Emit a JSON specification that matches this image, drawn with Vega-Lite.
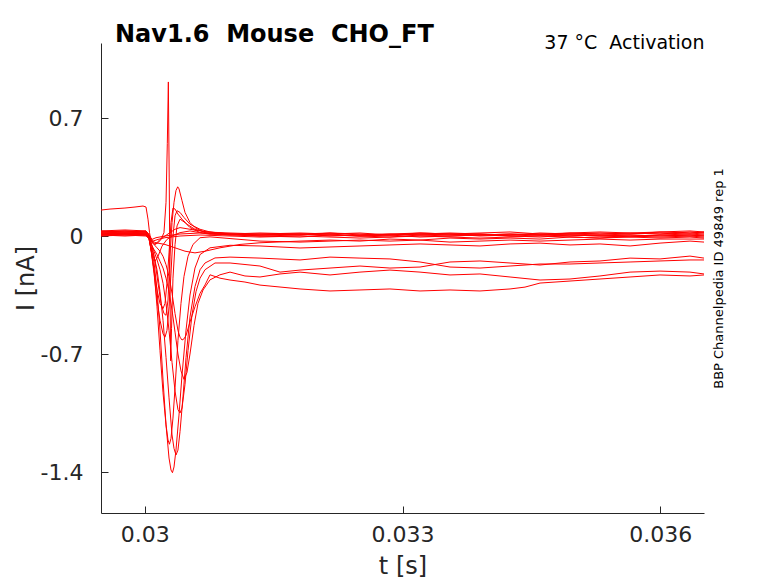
{
  "$schema": "https://vega.github.io/schema/vega-lite/v6.json",
  "width": 603,
  "height": 470,
  "autosize": {"type": "none"},
  "padding": {"left": 101, "top": 43, "right": 74, "bottom": 70},
  "background": "white",
  "title": {
    "text": "Nav1.6\u00a0 Mouse\u00a0 CHO_FT",
    "anchor": "start",
    "frame": "group",
    "dx": 14,
    "dy": 33,
    "offset": 0,
    "baseline": "alphabetic",
    "font": "DejaVu Sans",
    "fontSize": 24,
    "fontWeight": "bold",
    "color": "black"
  },
  "datasets": {
    "traces": [
      {"s":1,"t":0.02949,"i":0.012},{"s":1,"t":0.029769,"i":0.018},{"s":1,"t":0.030014,"i":0.012},{"s":1,"t":0.030049,"i":-0.012},{"s":1,"t":0.030072,"i":-0.083},{"s":1,"t":0.030107,"i":-0.154},{"s":1,"t":0.030142,"i":-0.32},{"s":1,"t":0.030177,"i":-0.558},{"s":1,"t":0.030212,"i":-0.854},{"s":1,"t":0.030247,"i":-1.121},{"s":1,"t":0.030282,"i":-1.317},{"s":1,"t":0.030305,"i":-1.388},{"s":1,"t":0.030322,"i":-1.404},{"s":1,"t":0.03034,"i":-1.37},{"s":1,"t":0.030363,"i":-1.269},{"s":1,"t":0.030398,"i":-1.062},{"s":1,"t":0.030433,"i":-0.825},{"s":1,"t":0.03048,"i":-0.558},{"s":1,"t":0.030526,"i":-0.35},{"s":1,"t":0.030584,"i":-0.19},{"s":1,"t":0.030643,"i":-0.11},{"s":1,"t":0.030759,"i":-0.07},{"s":1,"t":0.030992,"i":-0.055},{"s":1,"t":0.031341,"i":-0.059},{"s":1,"t":0.031807,"i":-0.071},{"s":1,"t":0.032156,"i":-0.065},{"s":1,"t":0.032505,"i":-0.059},{"s":1,"t":0.032854,"i":-0.053},{"s":1,"t":0.033204,"i":-0.047},{"s":1,"t":0.033553,"i":-0.053},{"s":1,"t":0.033902,"i":-0.059},{"s":1,"t":0.034252,"i":-0.047},{"s":1,"t":0.034601,"i":-0.042},{"s":1,"t":0.03495,"i":-0.053},{"s":1,"t":0.035299,"i":-0.047},{"s":1,"t":0.035649,"i":-0.059},{"s":1,"t":0.035998,"i":-0.042},{"s":1,"t":0.036347,"i":-0.03},{"s":1,"t":0.03651,"i":-0.036},
      {"s":2,"t":0.02949,"i":0.006},{"s":2,"t":0.029769,"i":0.012},{"s":2,"t":0.030014,"i":0.006},{"s":2,"t":0.030049,"i":-0.018},{"s":2,"t":0.030072,"i":-0.06},{"s":2,"t":0.030107,"i":-0.12},{"s":2,"t":0.030142,"i":-0.2},{"s":2,"t":0.030177,"i":-0.33},{"s":2,"t":0.030212,"i":-0.5},{"s":2,"t":0.030247,"i":-0.72},{"s":2,"t":0.030282,"i":-0.96},{"s":2,"t":0.030317,"i":-1.18},{"s":2,"t":0.03034,"i":-1.26},{"s":2,"t":0.030363,"i":-1.299},{"s":2,"t":0.030386,"i":-1.27},{"s":2,"t":0.03041,"i":-1.16},{"s":2,"t":0.030445,"i":-0.95},{"s":2,"t":0.03048,"i":-0.72},{"s":2,"t":0.030526,"i":-0.48},{"s":2,"t":0.030584,"i":-0.3},{"s":2,"t":0.030643,"i":-0.2},{"s":2,"t":0.030701,"i":-0.16},{"s":2,"t":0.030817,"i":-0.13},{"s":2,"t":0.030992,"i":-0.125},{"s":2,"t":0.031341,"i":-0.131},{"s":2,"t":0.031807,"i":-0.142},{"s":2,"t":0.032156,"i":-0.125},{"s":2,"t":0.032505,"i":-0.131},{"s":2,"t":0.032854,"i":-0.136},{"s":2,"t":0.033204,"i":-0.154},{"s":2,"t":0.033553,"i":-0.184},{"s":2,"t":0.033902,"i":-0.19},{"s":2,"t":0.034252,"i":-0.178},{"s":2,"t":0.034601,"i":-0.166},{"s":2,"t":0.03495,"i":-0.166},{"s":2,"t":0.035299,"i":-0.16},{"s":2,"t":0.035649,"i":-0.154},{"s":2,"t":0.035998,"i":-0.148},{"s":2,"t":0.036347,"i":-0.142},{"s":2,"t":0.03651,"i":-0.142},
      {"s":3,"t":0.02949,"i":0.024},{"s":3,"t":0.029769,"i":0.03},{"s":3,"t":0.030014,"i":0.024},{"s":3,"t":0.030049,"i":0.0},{"s":3,"t":0.030072,"i":-0.07},{"s":3,"t":0.030107,"i":-0.2},{"s":3,"t":0.030142,"i":-0.42},{"s":3,"t":0.030177,"i":-0.68},{"s":3,"t":0.030212,"i":-0.93},{"s":3,"t":0.030247,"i":-1.12},{"s":3,"t":0.03027,"i":-1.21},{"s":3,"t":0.030287,"i":-1.235},{"s":3,"t":0.030305,"i":-1.2},{"s":3,"t":0.030328,"i":-1.08},{"s":3,"t":0.030352,"i":-0.9},{"s":3,"t":0.030386,"i":-0.62},{"s":3,"t":0.030421,"i":-0.4},{"s":3,"t":0.030456,"i":-0.24},{"s":3,"t":0.030503,"i":-0.12},{"s":3,"t":0.030561,"i":-0.05},{"s":3,"t":0.030643,"i":-0.01},{"s":3,"t":0.030759,"i":-0.005},{"s":3,"t":0.030992,"i":-0.015},{"s":3,"t":0.031341,"i":-0.03},{"s":3,"t":0.031807,"i":-0.036},{"s":3,"t":0.032156,"i":-0.03},{"s":3,"t":0.032505,"i":-0.024},{"s":3,"t":0.032854,"i":-0.03},{"s":3,"t":0.033204,"i":-0.024},{"s":3,"t":0.033553,"i":-0.036},{"s":3,"t":0.033902,"i":-0.03},{"s":3,"t":0.034252,"i":-0.024},{"s":3,"t":0.034601,"i":-0.03},{"s":3,"t":0.03495,"i":-0.024},{"s":3,"t":0.035299,"i":-0.018},{"s":3,"t":0.035649,"i":-0.024},{"s":3,"t":0.035998,"i":-0.018},{"s":3,"t":0.036347,"i":-0.018},{"s":3,"t":0.03651,"i":-0.018},
      {"s":4,"t":0.02949,"i":0.018},{"s":4,"t":0.029769,"i":0.012},{"s":4,"t":0.030014,"i":0.018},{"s":4,"t":0.030049,"i":-0.006},{"s":4,"t":0.030072,"i":-0.04},{"s":4,"t":0.030107,"i":-0.09},{"s":4,"t":0.030142,"i":-0.14},{"s":4,"t":0.030177,"i":-0.2},{"s":4,"t":0.030212,"i":-0.28},{"s":4,"t":0.030247,"i":-0.4},{"s":4,"t":0.030282,"i":-0.56},{"s":4,"t":0.030317,"i":-0.75},{"s":4,"t":0.030352,"i":-0.92},{"s":4,"t":0.030386,"i":-1.03},{"s":4,"t":0.03041,"i":-1.05},{"s":4,"t":0.030433,"i":-1.02},{"s":4,"t":0.030468,"i":-0.88},{"s":4,"t":0.030503,"i":-0.68},{"s":4,"t":0.030549,"i":-0.47},{"s":4,"t":0.030596,"i":-0.33},{"s":4,"t":0.030643,"i":-0.25},{"s":4,"t":0.030701,"i":-0.2},{"s":4,"t":0.030817,"i":-0.16},{"s":4,"t":0.030992,"i":-0.16},{"s":4,"t":0.031341,"i":-0.178},{"s":4,"t":0.031574,"i":-0.214},{"s":4,"t":0.031807,"i":-0.202},{"s":4,"t":0.032156,"i":-0.19},{"s":4,"t":0.032505,"i":-0.178},{"s":4,"t":0.032854,"i":-0.19},{"s":4,"t":0.033204,"i":-0.184},{"s":4,"t":0.033553,"i":-0.154},{"s":4,"t":0.033902,"i":-0.148},{"s":4,"t":0.034252,"i":-0.16},{"s":4,"t":0.034601,"i":-0.172},{"s":4,"t":0.03495,"i":-0.154},{"s":4,"t":0.035299,"i":-0.148},{"s":4,"t":0.035649,"i":-0.131},{"s":4,"t":0.035998,"i":-0.136},{"s":4,"t":0.036347,"i":-0.119},{"s":4,"t":0.03651,"i":-0.131},
      {"s":5,"t":0.02949,"i":0.006},{"s":5,"t":0.029769,"i":0.0},{"s":5,"t":0.030014,"i":0.006},{"s":5,"t":0.030049,"i":-0.012},{"s":5,"t":0.030072,"i":-0.05},{"s":5,"t":0.030107,"i":-0.08},{"s":5,"t":0.030142,"i":-0.11},{"s":5,"t":0.030177,"i":-0.15},{"s":5,"t":0.030212,"i":-0.19},{"s":5,"t":0.030247,"i":-0.25},{"s":5,"t":0.030282,"i":-0.33},{"s":5,"t":0.030317,"i":-0.44},{"s":5,"t":0.030352,"i":-0.57},{"s":5,"t":0.030386,"i":-0.7},{"s":5,"t":0.030421,"i":-0.8},{"s":5,"t":0.030456,"i":-0.85},{"s":5,"t":0.030491,"i":-0.81},{"s":5,"t":0.030526,"i":-0.7},{"s":5,"t":0.030573,"i":-0.53},{"s":5,"t":0.030619,"i":-0.4},{"s":5,"t":0.030678,"i":-0.32},{"s":5,"t":0.030759,"i":-0.26},{"s":5,"t":0.030875,"i":-0.23},{"s":5,"t":0.030992,"i":-0.214},{"s":5,"t":0.031166,"i":-0.237},{"s":5,"t":0.031341,"i":-0.243},{"s":5,"t":0.031574,"i":-0.225},{"s":5,"t":0.031807,"i":-0.214},{"s":5,"t":0.032156,"i":-0.231},{"s":5,"t":0.032505,"i":-0.214},{"s":5,"t":0.032854,"i":-0.202},{"s":5,"t":0.033204,"i":-0.214},{"s":5,"t":0.033553,"i":-0.231},{"s":5,"t":0.033902,"i":-0.225},{"s":5,"t":0.034252,"i":-0.243},{"s":5,"t":0.034601,"i":-0.261},{"s":5,"t":0.03495,"i":-0.255},{"s":5,"t":0.035299,"i":-0.237},{"s":5,"t":0.035649,"i":-0.214},{"s":5,"t":0.035998,"i":-0.208},{"s":5,"t":0.036347,"i":-0.214},{"s":5,"t":0.03651,"i":-0.225},
      {"s":6,"t":0.02949,"i":0.012},{"s":6,"t":0.029769,"i":0.018},{"s":6,"t":0.030014,"i":0.012},{"s":6,"t":0.030049,"i":-0.006},{"s":6,"t":0.030072,"i":-0.03},{"s":6,"t":0.030107,"i":-0.05},{"s":6,"t":0.030142,"i":-0.07},{"s":6,"t":0.030177,"i":-0.09},{"s":6,"t":0.030212,"i":-0.12},{"s":6,"t":0.030247,"i":-0.17},{"s":6,"t":0.030282,"i":-0.24},{"s":6,"t":0.030317,"i":-0.34},{"s":6,"t":0.030352,"i":-0.46},{"s":6,"t":0.030386,"i":-0.56},{"s":6,"t":0.03041,"i":-0.6},{"s":6,"t":0.030433,"i":-0.617},{"s":6,"t":0.030456,"i":-0.61},{"s":6,"t":0.03048,"i":-0.59},{"s":6,"t":0.030526,"i":-0.51},{"s":6,"t":0.030584,"i":-0.42},{"s":6,"t":0.030643,"i":-0.34},{"s":6,"t":0.030701,"i":-0.29},{"s":6,"t":0.030759,"i":-0.23},{"s":6,"t":0.030875,"i":-0.25},{"s":6,"t":0.030992,"i":-0.261},{"s":6,"t":0.031166,"i":-0.273},{"s":6,"t":0.031341,"i":-0.291},{"s":6,"t":0.031807,"i":-0.314},{"s":6,"t":0.032156,"i":-0.326},{"s":6,"t":0.032505,"i":-0.32},{"s":6,"t":0.032854,"i":-0.314},{"s":6,"t":0.033204,"i":-0.326},{"s":6,"t":0.033553,"i":-0.32},{"s":6,"t":0.033902,"i":-0.326},{"s":6,"t":0.034252,"i":-0.314},{"s":6,"t":0.034426,"i":-0.303},{"s":6,"t":0.034601,"i":-0.279},{"s":6,"t":0.03495,"i":-0.267},{"s":6,"t":0.035299,"i":-0.255},{"s":6,"t":0.035649,"i":-0.243},{"s":6,"t":0.035998,"i":-0.231},{"s":6,"t":0.036347,"i":-0.237},{"s":6,"t":0.03651,"i":-0.231},
      {"s":7,"t":0.02949,"i":0.03},{"s":7,"t":0.029769,"i":0.036},{"s":7,"t":0.030014,"i":0.03},{"s":7,"t":0.030049,"i":0.01},{"s":7,"t":0.030084,"i":-0.03},{"s":7,"t":0.030119,"i":-0.05},{"s":7,"t":0.030154,"i":-0.04},{"s":7,"t":0.030189,"i":-0.02},{"s":7,"t":0.030223,"i":0.02},{"s":7,"t":0.030247,"i":0.2},{"s":7,"t":0.030262,"i":0.55},{"s":7,"t":0.030274,"i":0.914},{"s":7,"t":0.030284,"i":0.35},{"s":7,"t":0.030293,"i":-0.3},{"s":7,"t":0.030301,"i":-0.74},{"s":7,"t":0.030311,"i":-0.55},{"s":7,"t":0.030328,"i":-0.25},{"s":7,"t":0.030352,"i":-0.05},{"s":7,"t":0.030375,"i":0.06},{"s":7,"t":0.03041,"i":0.1},{"s":7,"t":0.030468,"i":0.08},{"s":7,"t":0.030526,"i":0.05},{"s":7,"t":0.030643,"i":0.02},{"s":7,"t":0.030759,"i":0.01},{"s":7,"t":0.030992,"i":0.012},{"s":7,"t":0.031341,"i":0.006},{"s":7,"t":0.031807,"i":0.012},{"s":7,"t":0.032156,"i":0.0},{"s":7,"t":0.032505,"i":0.006},{"s":7,"t":0.032854,"i":0.012},{"s":7,"t":0.033204,"i":0.006},{"s":7,"t":0.033553,"i":0.0},{"s":7,"t":0.033902,"i":0.006},{"s":7,"t":0.034252,"i":0.012},{"s":7,"t":0.034601,"i":0.006},{"s":7,"t":0.03495,"i":0.0},{"s":7,"t":0.035299,"i":0.006},{"s":7,"t":0.035649,"i":0.012},{"s":7,"t":0.035998,"i":0.018},{"s":7,"t":0.036347,"i":0.012},{"s":7,"t":0.03651,"i":0.018},
      {"s":8,"t":0.02949,"i":0.018},{"s":8,"t":0.029769,"i":0.024},{"s":8,"t":0.030014,"i":0.018},{"s":8,"t":0.030049,"i":-0.01},{"s":8,"t":0.030072,"i":-0.08},{"s":8,"t":0.030107,"i":-0.22},{"s":8,"t":0.030142,"i":-0.38},{"s":8,"t":0.030177,"i":-0.5},{"s":8,"t":0.030212,"i":-0.58},{"s":8,"t":0.030235,"i":-0.6},{"s":8,"t":0.030258,"i":-0.56},{"s":8,"t":0.030282,"i":-0.42},{"s":8,"t":0.030305,"i":-0.22},{"s":8,"t":0.030328,"i":0.0},{"s":8,"t":0.030352,"i":0.12},{"s":8,"t":0.030375,"i":0.15},{"s":8,"t":0.03041,"i":0.14},{"s":8,"t":0.030456,"i":0.11},{"s":8,"t":0.030526,"i":0.07},{"s":8,"t":0.030643,"i":0.04},{"s":8,"t":0.030759,"i":0.024},{"s":8,"t":0.030992,"i":0.012},{"s":8,"t":0.031341,"i":0.0},{"s":8,"t":0.031807,"i":0.006},{"s":8,"t":0.032156,"i":0.012},{"s":8,"t":0.032505,"i":0.0},{"s":8,"t":0.032854,"i":-0.006},{"s":8,"t":0.033204,"i":0.006},{"s":8,"t":0.033553,"i":0.012},{"s":8,"t":0.033902,"i":0.0},{"s":8,"t":0.034252,"i":0.006},{"s":8,"t":0.034601,"i":0.012},{"s":8,"t":0.03495,"i":0.006},{"s":8,"t":0.035299,"i":0.0},{"s":8,"t":0.035649,"i":0.006},{"s":8,"t":0.035998,"i":0.0},{"s":8,"t":0.036347,"i":0.006},{"s":8,"t":0.03651,"i":0.0},
      {"s":9,"t":0.02949,"i":0.024},{"s":9,"t":0.029769,"i":0.018},{"s":9,"t":0.030014,"i":0.024},{"s":9,"t":0.030049,"i":0.0},{"s":9,"t":0.030072,"i":-0.08},{"s":9,"t":0.030107,"i":-0.2},{"s":9,"t":0.030142,"i":-0.32},{"s":9,"t":0.030177,"i":-0.4},{"s":9,"t":0.030212,"i":-0.43},{"s":9,"t":0.030235,"i":-0.4},{"s":9,"t":0.030258,"i":-0.28},{"s":9,"t":0.030282,"i":-0.1},{"s":9,"t":0.030305,"i":0.08},{"s":9,"t":0.030328,"i":0.166},{"s":9,"t":0.030352,"i":0.16},{"s":9,"t":0.030386,"i":0.13},{"s":9,"t":0.030433,"i":0.1},{"s":9,"t":0.030491,"i":0.07},{"s":9,"t":0.030584,"i":0.04},{"s":9,"t":0.030701,"i":0.024},{"s":9,"t":0.030992,"i":0.018},{"s":9,"t":0.031341,"i":0.012},{"s":9,"t":0.031807,"i":0.018},{"s":9,"t":0.032156,"i":0.012},{"s":9,"t":0.032505,"i":0.018},{"s":9,"t":0.032854,"i":0.006},{"s":9,"t":0.033204,"i":0.012},{"s":9,"t":0.033553,"i":0.018},{"s":9,"t":0.033902,"i":0.012},{"s":9,"t":0.034252,"i":0.006},{"s":9,"t":0.034601,"i":0.018},{"s":9,"t":0.03495,"i":0.012},{"s":9,"t":0.035299,"i":0.018},{"s":9,"t":0.035649,"i":0.012},{"s":9,"t":0.035998,"i":0.024},{"s":9,"t":0.036347,"i":0.018},{"s":9,"t":0.03651,"i":0.024},
      {"s":10,"t":0.02949,"i":0.03},{"s":10,"t":0.029769,"i":0.024},{"s":10,"t":0.030014,"i":0.03},{"s":10,"t":0.030049,"i":0.006},{"s":10,"t":0.030084,"i":-0.06},{"s":10,"t":0.030119,"i":-0.15},{"s":10,"t":0.030154,"i":-0.28},{"s":10,"t":0.030189,"i":-0.4},{"s":10,"t":0.030223,"i":-0.46},{"s":10,"t":0.030247,"i":-0.47},{"s":10,"t":0.03027,"i":-0.38},{"s":10,"t":0.030293,"i":-0.12},{"s":10,"t":0.030317,"i":0.08},{"s":10,"t":0.03034,"i":0.2},{"s":10,"t":0.030363,"i":0.27},{"s":10,"t":0.030383,"i":0.292},{"s":10,"t":0.030398,"i":0.28},{"s":10,"t":0.030433,"i":0.21},{"s":10,"t":0.030468,"i":0.14},{"s":10,"t":0.030526,"i":0.08},{"s":10,"t":0.030584,"i":0.05},{"s":10,"t":0.030701,"i":0.02},{"s":10,"t":0.030817,"i":0.012},{"s":10,"t":0.030992,"i":0.006},{"s":10,"t":0.031341,"i":0.012},{"s":10,"t":0.031807,"i":0.006},{"s":10,"t":0.032156,"i":0.018},{"s":10,"t":0.032505,"i":0.012},{"s":10,"t":0.032854,"i":0.006},{"s":10,"t":0.033204,"i":0.018},{"s":10,"t":0.033553,"i":0.012},{"s":10,"t":0.033902,"i":0.006},{"s":10,"t":0.034252,"i":0.012},{"s":10,"t":0.034601,"i":0.006},{"s":10,"t":0.03495,"i":0.018},{"s":10,"t":0.035299,"i":0.012},{"s":10,"t":0.035649,"i":0.018},{"s":10,"t":0.035998,"i":0.012},{"s":10,"t":0.036347,"i":0.024},{"s":10,"t":0.03651,"i":0.018},
      {"s":11,"t":0.02949,"i":0.154},{"s":11,"t":0.029595,"i":0.16},{"s":11,"t":0.029769,"i":0.166},{"s":11,"t":0.029886,"i":0.172},{"s":11,"t":0.029979,"i":0.178},{"s":11,"t":0.030014,"i":0.172},{"s":11,"t":0.030037,"i":0.1},{"s":11,"t":0.030055,"i":0.02},{"s":11,"t":0.030072,"i":-0.03},{"s":11,"t":0.030107,"i":-0.05},{"s":11,"t":0.030142,"i":-0.04},{"s":11,"t":0.030177,"i":-0.02},{"s":11,"t":0.030235,"i":0.0},{"s":11,"t":0.030293,"i":0.02},{"s":11,"t":0.030352,"i":0.04},{"s":11,"t":0.03041,"i":0.05},{"s":11,"t":0.030526,"i":0.04},{"s":11,"t":0.030643,"i":0.03},{"s":11,"t":0.030817,"i":0.02},{"s":11,"t":0.030992,"i":0.012},{"s":11,"t":0.031341,"i":0.006},{"s":11,"t":0.031807,"i":0.012},{"s":11,"t":0.032156,"i":0.006},{"s":11,"t":0.032505,"i":0.0},{"s":11,"t":0.032854,"i":0.006},{"s":11,"t":0.033204,"i":0.012},{"s":11,"t":0.033553,"i":0.006},{"s":11,"t":0.033902,"i":0.012},{"s":11,"t":0.034252,"i":0.0},{"s":11,"t":0.034601,"i":0.006},{"s":11,"t":0.03495,"i":0.012},{"s":11,"t":0.035299,"i":0.006},{"s":11,"t":0.035649,"i":0.0},{"s":11,"t":0.035998,"i":0.006},{"s":11,"t":0.036347,"i":0.012},{"s":11,"t":0.03651,"i":0.006},
      {"s":12,"t":0.02949,"i":0.012},{"s":12,"t":0.029769,"i":0.006},{"s":12,"t":0.030014,"i":0.012},{"s":12,"t":0.030049,"i":-0.02},{"s":12,"t":0.030084,"i":-0.1},{"s":12,"t":0.030119,"i":-0.15},{"s":12,"t":0.030154,"i":-0.12},{"s":12,"t":0.0302,"i":-0.06},{"s":12,"t":0.030258,"i":-0.02},{"s":12,"t":0.030317,"i":0.0},{"s":12,"t":0.03041,"i":0.02},{"s":12,"t":0.030526,"i":0.03},{"s":12,"t":0.030643,"i":0.02},{"s":12,"t":0.030817,"i":0.012},{"s":12,"t":0.030992,"i":0.006},{"s":12,"t":0.031341,"i":0.0},{"s":12,"t":0.031807,"i":-0.006},{"s":12,"t":0.032156,"i":0.006},{"s":12,"t":0.032505,"i":0.0},{"s":12,"t":0.032854,"i":0.006},{"s":12,"t":0.033204,"i":-0.006},{"s":12,"t":0.033553,"i":0.0},{"s":12,"t":0.033902,"i":0.006},{"s":12,"t":0.034252,"i":0.0},{"s":12,"t":0.034601,"i":-0.006},{"s":12,"t":0.03495,"i":0.006},{"s":12,"t":0.035299,"i":0.0},{"s":12,"t":0.035649,"i":-0.006},{"s":12,"t":0.035998,"i":0.006},{"s":12,"t":0.036347,"i":0.0},{"s":12,"t":0.03651,"i":0.006},
      {"s":13,"t":0.02949,"i":0.006},{"s":13,"t":0.029769,"i":0.012},{"s":13,"t":0.030014,"i":0.006},{"s":13,"t":0.030049,"i":-0.01},{"s":13,"t":0.030084,"i":-0.03},{"s":13,"t":0.03013,"i":-0.04},{"s":13,"t":0.030235,"i":-0.05},{"s":13,"t":0.030352,"i":-0.07},{"s":13,"t":0.030468,"i":-0.09},{"s":13,"t":0.030584,"i":-0.1},{"s":13,"t":0.030701,"i":-0.09},{"s":13,"t":0.030875,"i":-0.07},{"s":13,"t":0.031108,"i":-0.05},{"s":13,"t":0.031341,"i":-0.04},{"s":13,"t":0.031807,"i":-0.03},{"s":13,"t":0.032156,"i":-0.024},{"s":13,"t":0.032505,"i":-0.03},{"s":13,"t":0.032854,"i":-0.018},{"s":13,"t":0.033204,"i":-0.024},{"s":13,"t":0.033553,"i":-0.012},{"s":13,"t":0.033902,"i":-0.018},{"s":13,"t":0.034252,"i":-0.012},{"s":13,"t":0.034601,"i":-0.018},{"s":13,"t":0.03495,"i":-0.006},{"s":13,"t":0.035299,"i":-0.012},{"s":13,"t":0.035649,"i":-0.006},{"s":13,"t":0.035998,"i":-0.012},{"s":13,"t":0.036347,"i":-0.006},{"s":13,"t":0.03651,"i":-0.012},
      {"s":14,"t":0.02949,"i":0.024},{"s":14,"t":0.029769,"i":0.03},{"s":14,"t":0.030014,"i":0.024},{"s":14,"t":0.030049,"i":0.006},{"s":14,"t":0.030084,"i":-0.02},{"s":14,"t":0.03013,"i":-0.01},{"s":14,"t":0.030235,"i":0.0},{"s":14,"t":0.03041,"i":0.012},{"s":14,"t":0.030643,"i":0.018},{"s":14,"t":0.030992,"i":0.012},{"s":14,"t":0.031341,"i":0.018},{"s":14,"t":0.031807,"i":0.012},{"s":14,"t":0.032156,"i":0.018},{"s":14,"t":0.032505,"i":0.006},{"s":14,"t":0.032854,"i":0.012},{"s":14,"t":0.033204,"i":0.018},{"s":14,"t":0.033553,"i":0.012},{"s":14,"t":0.033902,"i":0.018},{"s":14,"t":0.034252,"i":0.024},{"s":14,"t":0.034601,"i":0.012},{"s":14,"t":0.03495,"i":0.018},{"s":14,"t":0.035299,"i":0.024},{"s":14,"t":0.035649,"i":0.018},{"s":14,"t":0.035998,"i":0.024},{"s":14,"t":0.036347,"i":0.03},{"s":14,"t":0.03651,"i":0.024},
      {"s":15,"t":0.02949,"i":0.0},{"s":15,"t":0.029769,"i":0.006},{"s":15,"t":0.030014,"i":0.0},{"s":15,"t":0.030049,"i":-0.012},{"s":15,"t":0.030095,"i":-0.03},{"s":15,"t":0.030154,"i":-0.02},{"s":15,"t":0.030235,"i":-0.01},{"s":15,"t":0.03041,"i":0.0},{"s":15,"t":0.030643,"i":0.006},{"s":15,"t":0.030992,"i":0.0},{"s":15,"t":0.031341,"i":-0.006},{"s":15,"t":0.031807,"i":0.0},{"s":15,"t":0.032156,"i":-0.006},{"s":15,"t":0.032505,"i":-0.012},{"s":15,"t":0.032854,"i":-0.006},{"s":15,"t":0.033204,"i":0.0},{"s":15,"t":0.033553,"i":-0.006},{"s":15,"t":0.033902,"i":-0.012},{"s":15,"t":0.034252,"i":-0.006},{"s":15,"t":0.034601,"i":0.0},{"s":15,"t":0.03495,"i":-0.006},{"s":15,"t":0.035299,"i":-0.012},{"s":15,"t":0.035649,"i":0.0},{"s":15,"t":0.035998,"i":-0.006},{"s":15,"t":0.036347,"i":0.0},{"s":15,"t":0.03651,"i":-0.006}
    ]
  },
  "layer": [
    {
      "data": {"name": "traces"},
      "mark": {"type": "line", "color": "#ff0000", "strokeWidth": 1, "clip": true},
      "encoding": {
        "x": {
          "field": "t",
          "type": "quantitative",
          "scale": {"domain": [0.02949, 0.03651], "nice": false, "zero": false},
          "axis": {
            "orient": "bottom",
            "values": [0.03, 0.033, 0.036],
            "labelExpr": "datum.value + ''",
            "title": "t [s]",
            "grid": false,
            "tickSize": -7,
            "labelPadding": 18,
            "titlePadding": 9,
            "domainColor": "#262626",
            "tickColor": "#262626",
            "labelColor": "#262626",
            "titleColor": "#262626",
            "labelFont": "DejaVu Sans",
            "labelFontSize": 22,
            "titleFont": "DejaVu Sans",
            "titleFontSize": 24,
            "titleFontWeight": "normal"
          }
        },
        "y": {
          "field": "i",
          "type": "quantitative",
          "scale": {"domain": [-1.643, 1.145], "nice": false, "zero": false},
          "axis": {
            "orient": "left",
            "values": [-1.4, -0.7, 0, 0.7],
            "labelExpr": "datum.value + ''",
            "title": "I [nA]",
            "grid": false,
            "tickSize": -7,
            "labelPadding": 25,
            "titlePadding": 2,
            "domainColor": "#262626",
            "tickColor": "#262626",
            "labelColor": "#262626",
            "titleColor": "#262626",
            "labelFont": "DejaVu Sans",
            "labelFontSize": 22,
            "titleFont": "DejaVu Sans",
            "titleFontSize": 24,
            "titleFontWeight": "normal"
          }
        },
        "detail": {"field": "s", "type": "nominal"}
      }
    },
    {
      "data": {"values": [{}]},
      "mark": {"type": "point", "opacity": 0},
      "encoding": {
        "x": {
          "datum": 0.033,
          "type": "quantitative",
          "axis": {
            "orient": "top",
            "title": "37 °C\u00a0 Activation",
            "titleAnchor": "end",
            "titleBaseline": "alphabetic",
            "titlePadding": -5,
            "titleFont": "DejaVu Sans",
            "titleFontSize": 19,
            "titleFontWeight": "normal",
            "titleColor": "black",
            "domain": false,
            "ticks": false,
            "labels": false,
            "grid": false
          }
        },
        "y": {
          "datum": 0,
          "type": "quantitative",
          "axis": {
            "orient": "right",
            "title": "BBP Channelpedia ID 49849 rep 1",
            "titleAngle": 270,
            "titleBaseline": "alphabetic",
            "titlePadding": 18,
            "titleFont": "DejaVu Sans",
            "titleFontSize": 13,
            "titleFontWeight": "normal",
            "titleColor": "black",
            "domain": false,
            "ticks": false,
            "labels": false,
            "grid": false
          }
        }
      }
    }
  ],
  "resolve": {"axis": {"x": "independent", "y": "independent"}},
  "config": {"view": {"stroke": null}}
}
